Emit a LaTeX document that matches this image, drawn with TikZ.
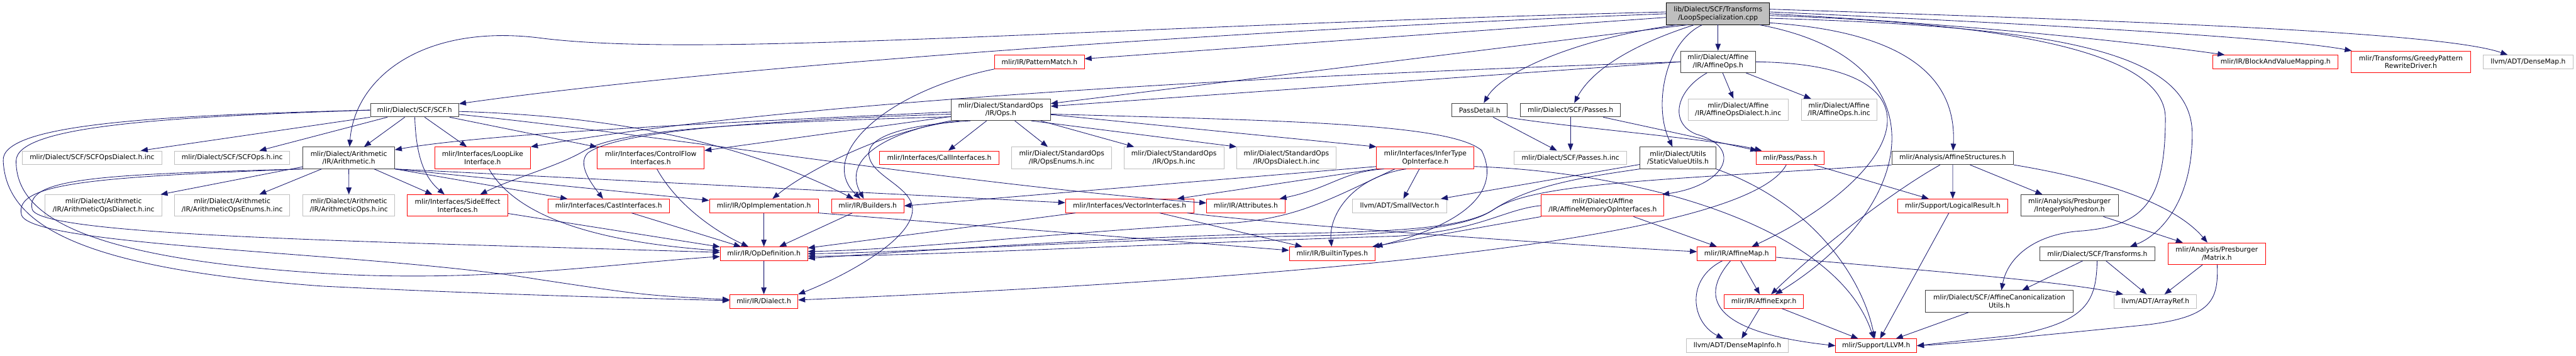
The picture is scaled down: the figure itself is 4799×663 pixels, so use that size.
\documentclass[tikz,border=0pt]{standalone}
\usepackage{fontspec}
\setmainfont{DejaVu Sans}
\usepackage{xcolor}
\usetikzlibrary{arrows.meta}
\definecolor{edgeblue}{HTML}{191970}
\definecolor{grey25}{HTML}{404040}
\definecolor{grey75}{HTML}{BFBFBF}
\definecolor{truncred}{HTML}{FF0000}
\newcommand{\depfont}{\fontsize{12.6}{14.8}\selectfont}

\begin{document}
\begin{tikzpicture}[x=1pt, y=-1pt, >={Triangle[length=13pt, width=10pt]},
    box/.style={draw, rectangle, inner sep=0pt, line width=1.1pt, font=\depfont, align=center, minimum height=25.4pt},
    tall/.style={minimum height=40.2pt},
    doc/.style={box, draw=grey25},
    trunc/.style={box, draw=truncred},
    ext/.style={box, draw=grey75},
    rootnode/.style={box, draw=black, fill=grey75},
    dep/.style={->, draw=edgeblue, line width=1pt}]
    \useasboundingbox (0,0) rectangle (4799,663);

    % Top row
    \node[rootnode, tall, minimum width=192pt] (root) at (3200.6,25.6) {lib/Dialect/SCF/Transforms\\/LoopSpecialization.cpp};
    \node[trunc, minimum width=167pt] (patmatch) at (1936.5,115.4) {mlir/IR/PatternMatch.h};
    \node[doc, tall, minimum width=140pt] (affops) at (3200.6,115.2) {mlir/Dialect/Affine\\/IR/AffineOps.h};
    \node[trunc, minimum width=233pt] (blockmap) at (4239.3,115.4) {mlir/IR/BlockAndValueMapping.h};
    \node[trunc, tall, minimum width=222pt] (greedy) at (4491.3,115.2) {mlir/Transforms/GreedyPattern\\RewriteDriver.h};
    \node[ext, minimum width=167pt] (densemap) at (4709.8,115.4) {llvm/ADT/DenseMap.h};

    % Second row
    \node[doc, minimum width=164.5pt] (scf) at (772.3,205.1) {mlir/Dialect/SCF/SCF.h};
    \node[doc, tall, minimum width=185.2pt] (stdops) at (1864.4,204.4) {mlir/Dialect/StandardOps\\/IR/Ops.h};
    \node[doc, minimum width=103pt] (passdetail) at (2756.5,205.1) {PassDetail.h};
    \node[doc, minimum width=186.5pt] (scfpasses) at (2925.8,205.1) {mlir/Dialect/SCF/Passes.h};
    \node[ext, tall, minimum width=186.7pt] (affdialectinc) at (3238,204.4) {mlir/Dialect/Affine\\/IR/AffineOpsDialect.h.inc};
    \node[ext, tall, minimum width=141pt] (affopsinc) at (3426,204.4) {mlir/Dialect/Affine\\/IR/AffineOps.h.inc};

    % Third row
    \node[ext, minimum width=261pt] (scfopsdialect) at (171.5,293.9) {mlir/Dialect/SCF/SCFOpsDialect.h.inc};
    \node[ext, minimum width=215pt] (scfopsinc) at (432.5,293.9) {mlir/Dialect/SCF/SCFOps.h.inc};
    \node[doc, tall, minimum width=170.5pt] (arith) at (649.8,294.1) {mlir/Dialect/Arithmetic\\/IR/Arithmetic.h};
    \node[trunc, tall, minimum width=178.7pt] (looplike) at (899,294.1) {mlir/Interfaces/LoopLike\\Interface.h};
    \node[trunc, tall, minimum width=199pt] (controlflow) at (1212.3,294.1) {mlir/Interfaces/ControlFlow\\Interfaces.h};
    \node[trunc, minimum width=222.4pt] (callif) at (1749.8,293.9) {mlir/Interfaces/CallInterfaces.h};
    \node[ext, tall, minimum width=186pt] (opsenums) at (1978,294.1) {mlir/Dialect/StandardOps\\/IR/OpsEnums.h.inc};
    \node[ext, tall, minimum width=186pt] (opsinc) at (2187,294.1) {mlir/Dialect/StandardOps\\/IR/Ops.h.inc};
    \node[ext, tall, minimum width=185pt] (opsdialect) at (2396.5,294.1) {mlir/Dialect/StandardOps\\/IR/OpsDialect.h.inc};
    \node[trunc, tall, minimum width=181.4pt] (infertype) at (2655.3,294.1) {mlir/Interfaces/InferType\\OpInterface.h};
    \node[ext, minimum width=209.6pt] (passesinc) at (2925.8,293.9) {mlir/Dialect/SCF/Passes.h.inc};
    \node[doc, tall, minimum width=140.8pt] (staticval) at (3125.9,294.1) {mlir/Dialect/Utils\\/StaticValueUtils.h};
    \node[trunc, minimum width=127pt] (pass) at (3334.9,293.9) {mlir/Pass/Pass.h};
    \node[doc, minimum width=227pt] (affstruct) at (3637.8,293.9) {mlir/Analysis/AffineStructures.h};

    % Fourth row
    \node[ext, tall, minimum width=218pt] (arithdialectinc) at (193,382.9) {mlir/Dialect/Arithmetic\\/IR/ArithmeticOpsDialect.h.inc};
    \node[ext, tall, minimum width=215pt] (arithenums) at (432.5,382.9) {mlir/Dialect/Arithmetic\\/IR/ArithmeticOpsEnums.h.inc};
    \node[ext, tall, minimum width=171pt] (arithopsinc) at (650,382.9) {mlir/Dialect/Arithmetic\\/IR/ArithmeticOps.h.inc};
    \node[trunc, tall, minimum width=187pt] (sideeffect) at (852.5,382.9) {mlir/Interfaces/SideEffect\\Interfaces.h};
    \node[trunc, minimum width=226.4pt] (cast) at (1133.8,383.5) {mlir/Interfaces/CastInterfaces.h};
    \node[trunc, minimum width=202.8pt] (opimpl) at (1423.1,383.5) {mlir/IR/OpImplementation.h};
    \node[trunc, minimum width=135pt] (builders) at (1616.5,383.5) {mlir/IR/Builders.h};
    \node[trunc, minimum width=239pt] (vector) at (2104.5,383.5) {mlir/Interfaces/VectorInterfaces.h};
    \node[trunc, minimum width=145.6pt] (attrs) at (2320.8,383.5) {mlir/IR/Attributes.h};
    \node[ext, minimum width=175pt] (smallvec) at (2607.3,383.5) {llvm/ADT/SmallVector.h};
    \node[trunc, tall, minimum width=228.5pt] (affmemop) at (2985.8,382.9) {mlir/Dialect/Affine\\/IR/AffineMemoryOpInterfaces.h};
    \node[trunc, minimum width=204.2pt] (logical) at (3637.9,383.5) {mlir/Support/LogicalResult.h};
    \node[doc, tall, minimum width=181.4pt] (intpoly) at (3855.3,382.9) {mlir/Analysis/Presburger\\/IntegerPolyhedron.h};

    % Fifth row
    \node[trunc, minimum width=163pt] (opdef) at (1423.1,472.7) {mlir/IR/OpDefinition.h};
    \node[trunc, minimum width=160pt] (builtintypes) at (2482,472.7) {mlir/IR/BuiltinTypes.h};
    \node[trunc, minimum width=146.6pt] (affmap) at (3235.2,472.7) {mlir/IR/AffineMap.h};
    \node[doc, minimum width=214.7pt] (scftransforms) at (3907.2,472.7) {mlir/Dialect/SCF/Transforms.h};
    \node[trunc, tall, minimum width=181.6pt] (matrix) at (4129.8,472.5) {mlir/Analysis/Presburger\\/Matrix.h};

    % Bottom rows
    \node[trunc, minimum width=126.7pt] (dialect) at (1423,561.5) {mlir/IR/Dialect.h};
    \node[trunc, minimum width=147pt] (affexpr) at (3285.9,561.5) {mlir/IR/AffineExpr.h};
    \node[doc, tall, minimum width=275.8pt] (affcanon) at (3724.6,561.3) {mlir/Dialect/SCF/AffineCanonicalization\\Utils.h};
    \node[ext, minimum width=153pt] (arrayref) at (4015.3,561.5) {llvm/ADT/ArrayRef.h};
    \node[ext, minimum width=189.8pt] (densemapinfo) at (3236.5,644) {llvm/ADT/DenseMapInfo.h};
    \node[trunc, minimum width=150.8pt] (llvm) at (3495.2,644) {mlir/Support/LLVM.h};

    % Includes of the source file
    \draw[dep] (root) -- (affops);
    \draw[dep] (root.215) .. controls (3100,80) and (3080,200) .. (staticval);
    \draw[dep] (root.-15) .. controls (3620,110) and (3580,380) .. (affexpr);
    \draw[dep] (root.195) .. controls (2950,70) and (2800,130) .. (passdetail);
    \draw[dep] (root.205) .. controls (3020,90) and (2960,140) .. (scfpasses);
    \draw[dep] (root.west) .. controls (2200,60) and (1300,130) .. (scf);
    \draw[dep] (root.178) .. controls (2000,50) and (1300,110) .. (1000,70) .. controls (780,45) and (660,150) .. (arith);
    \draw[dep] (root.200) -- (stdops);
    \draw[dep] (root) -- (patmatch);
    \draw[dep] (root.east) .. controls (3650,45) and (3950,75) .. (blockmap);
    \draw[dep] (root.2) .. controls (3800,45) and (4250,70) .. (greedy);
    \draw[dep] (root.5) .. controls (4000,40) and (4550,60) .. (densemap);
    \draw[dep] (root.-10) .. controls (3560,60) and (3645,150) .. (affstruct);
    \draw[dep] (root.-5) .. controls (3850,50) and (4084,100) .. (4084,250) .. controls (4084,380) and (4020,440) .. ([xshift=-47pt]scftransforms.north east);
    \draw[dep] (root.-2) .. controls (3800,45) and (4034,110) .. (4034,220) .. controls (4034,380) and (3990,420) .. (3880,430) .. controls (3790,435) and (3740,480) .. (affcanon);

    % Affine ops
    \draw[dep] (affops) -- (affdialectinc);
    \draw[dep] (affops) -- (affopsinc);
    \draw[dep] (affops.225) .. controls (3120,170) and (3110,230) .. (3160,250) .. controls (3250,275) and (3215,345) .. ([xshift=-4pt]affmemop.north east);
    \draw[dep] (affops.east) .. controls (3650,120) and (3540,330) .. (affmap);
    \draw[dep] (affops.west) -- (stdops);
    \draw[dep] (affops.west) .. controls (2400,140) and (1500,185) .. (looplike.north east);

    % Standard ops
    \draw[dep] (stdops) -- (opsenums);
    \draw[dep] (stdops) -- (opsinc);
    \draw[dep] (stdops.-20) -- (opsdialect.north west);
    \draw[dep] (stdops) -- (callif);
    \draw[dep] (stdops) -- (infertype.north west);
    \draw[dep] (stdops) .. controls (1300,230) and (900,250) .. (arith);
    \draw[dep] (stdops) -- (controlflow);
    \draw[dep] (stdops.188) .. controls (1400,228) and (1160,240) .. (1090,280) .. controls (1040,310) and (960,330) .. (sideeffect);
    \draw[dep] (stdops.185) .. controls (1400,225) and (1150,245) .. (1095,285) .. controls (1075,305) and (1100,340) .. (cast);
    \draw[dep] (stdops.195) .. controls (1650,240) and (1500,320) .. (opimpl);
    \draw[dep] (stdops.south west) .. controls (1640,250) and (1570,300) .. (builders);
    \draw[dep] (stdops.200) .. controls (1650,235) and (1610,265) .. (1620,295) .. controls (1630,330) and (1700,350) .. (1700,390) .. controls (1700,450) and (1560,520) .. (dialect.north east);
    \draw[dep] (stdops.-5) .. controls (2400,225) and (2700,230) .. (2760,280) .. controls (2800,360) and (2720,420) .. (builtintypes.north east);

    % SCF dialect
    \draw[dep] (scf.south west) -- (scfopsdialect);
    \draw[dep] (scf) -- (scfopsinc);
    \draw[dep] (scf) -- (arith);
    \draw[dep] (scf) .. controls (775,290) and (790,330) .. (sideeffect);
    \draw[dep] (scf) -- (looplike);
    \draw[dep] (scf) -- (controlflow);
    \draw[dep] (scf) .. controls (1100,215) and (1350,250) .. (builders);
    \draw[dep] (scf) .. controls (1200,247) and (1800,345) .. (attrs);
    \draw[dep] (scf.west) .. controls (300,215) and (0,230) .. (6,300) .. controls (12,420) and (150,500) .. (600,533) .. controls (900,548) and (1200,556) .. (dialect);
    \draw[dep] (scf.west) .. controls (300,218) and (30,235) .. (30,300) .. controls (30,400) and (150,480) .. (600,509) .. controls (900,528) and (1150,490) .. (opdef);

    % Arithmetic dialect
    \draw[dep] (arith) -- (arithdialectinc);
    \draw[dep] (arith) -- (arithenums);
    \draw[dep] (arith) -- (arithopsinc);
    \draw[dep] (arith) -- (sideeffect);
    \draw[dep] (arith.south east) -- (cast);
    \draw[dep] (arith.south east) -- (opimpl);
    \draw[dep] (arith.south east) -- (vector);
    \draw[dep] (arith.south west) .. controls (200,325) and (45,330) .. (60,390) .. controls (75,440) and (700,450) .. (opdef);
    \draw[dep] (arith.south west) .. controls (180,330) and (25,340) .. (40,400) .. controls (55,460) and (700,470) .. (1000,520) .. controls (1200,550) .. (dialect);

    % Interfaces and IR
    \draw[dep] (looplike) .. controls (960,400) and (1100,450) .. (opdef);
    \draw[dep] (controlflow) .. controls (1260,380) and (1330,430) .. (opdef);
    \draw[dep] (sideeffect) -- (opdef);
    \draw[dep] (cast) -- (opdef);
    \draw[dep] (opimpl) -- (opdef);
    \draw[dep] (opimpl.south east) -- (builtintypes);
    \draw[dep] (builders) -- (opdef);
    \draw[dep] (patmatch.south west) .. controls (1650,170) and (1520,290) .. (builders);
    \draw[dep] (opdef) -- (dialect);
    \draw[dep] (vector) -- (opdef);
    \draw[dep] (vector) -- (builtintypes);
    \draw[dep] (vector) .. controls (2400,420) and (2900,455) .. (affmap);

    % InferType interface
    \draw[dep] (infertype) -- (smallvec);
    \draw[dep] (infertype.210) .. controls (2520,330) and (2475,400) .. (builtintypes);
    \draw[dep] (infertype.-10) .. controls (3050,320) and (3420,420) .. (llvm);
    \draw[dep] (infertype.195) .. controls (2500,320) and (2480,350) .. (attrs);
    \draw[dep] (infertype.190) -- (builders.east);
    \draw[dep] (infertype.south west) -- (vector);
    \draw[dep] (infertype.200) .. controls (2480,370) and (2420,405) .. (2300,415) .. controls (2000,430) and (1700,465) .. (opdef.3);

    % Static value utils and affine memory interfaces
    \draw[dep] (staticval) -- (smallvec);
    \draw[dep] (staticval.south east) .. controls (3380,380) and (3470,520) .. (llvm);
    \draw[dep] (staticval.south west) .. controls (2950,330) and (2850,345) .. (2780,392) .. controls (2730,425) and (2600,438) .. (2400,440) .. controls (2100,445) and (1700,470) .. (opdef.east);
    \draw[dep] (affmemop) -- (affmap);
    \draw[dep] (affmemop.south west) -- (builtintypes);
    \draw[dep] (affmemop.west) .. controls (2800,390) and (2760,430) .. (2600,440) .. controls (2300,448) and (1700,478) .. (opdef.-3);

    % Analysis
    \draw[dep] (affstruct) -- (logical);
    \draw[dep] (affstruct) -- (intpoly);
    \draw[dep] (affstruct.south east) .. controls (3950,340) and (4060,390) .. (matrix);
    \draw[dep] (affstruct) .. controls (3520,360) and (3380,470) .. (affexpr);
    \draw[dep] (affstruct.south west) .. controls (3100,335) and (2860,340) .. (2783,390) .. controls (2730,425) and (2600,432) .. (2400,435) .. controls (2100,440) and (1700,468) .. (opdef.-6);
    \draw[dep] (intpoly) -- (matrix);
    \draw[dep] (matrix) -- (arrayref);
    \draw[dep] (matrix) .. controls (4133,560) and (4120,590) .. (4000,605) .. controls (3800,625) and (3650,640) .. (llvm.east);

    % SCF transforms
    \draw[dep] (scftransforms) -- (affcanon);
    \draw[dep] (scftransforms) -- (arrayref);
    \draw[dep] (scftransforms) .. controls (3905,560) and (3890,600) .. (3750,625) .. controls (3650,635) .. (llvm.east);
    \draw[dep] (affcanon) -- (llvm);

    % Affine map and expr
    \draw[dep] (affmap) -- (affexpr);
    \draw[dep] (affmap) .. controls (3140,520) and (3150,600) .. (densemapinfo);
    \draw[dep] (affmap) .. controls (3160,560) and (3200,620) .. (llvm.west);
    \draw[dep] (affmap) .. controls (3600,505) and (3850,525) .. (arrayref);
    \draw[dep] (affexpr) -- (densemapinfo);
    \draw[dep] (affexpr) -- (llvm);
    \draw[dep] (logical) -- (llvm);

    % Passes
    \draw[dep] (pass) -- (logical);
    \draw[dep] (pass) .. controls (3250,450) and (2400,520) .. (dialect);
    \draw[dep] (passdetail) -- (passesinc);
    \draw[dep] (passdetail.south east) .. controls (2900,235) and (3200,260) .. (pass);
    \draw[dep] (scfpasses) -- (passesinc);
    \draw[dep] (scfpasses) -- (pass);
\end{tikzpicture}
\end{document}
